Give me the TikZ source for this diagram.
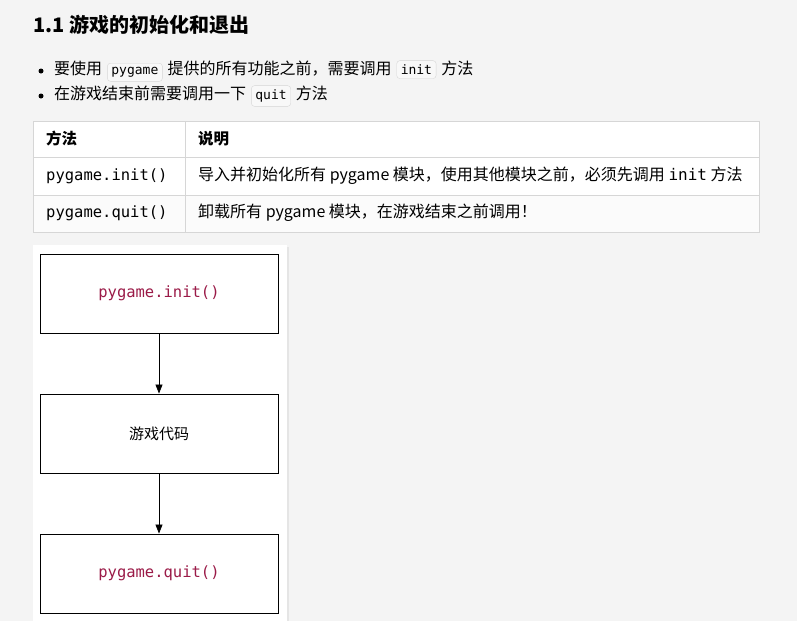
\documentclass[tikz,border=0pt]{standalone}
\usepackage{fontspec}
\setmainfont{Noto Sans CJK SC}
\setmonofont{DejaVu Sans Mono}
\usetikzlibrary{arrows.meta}
\definecolor{bg}{HTML}{F4F4F4}
\definecolor{codec}{HTML}{9B1B48}
\definecolor{grid}{HTML}{D6D6D6}
\begin{document}
\begin{tikzpicture}[x=1pt,y=-1pt,
  txt/.style={anchor=west,inner sep=0pt,font=\fontsize{16}{18}\selectfont},
  chip/.style={draw=grid,fill=bg!60!white,rounded corners=3pt,inner xsep=4pt,inner ysep=4pt,font=\fontsize{13}{15}\ttfamily},
  fbox/.style={draw,line width=0.9pt,minimum width=238pt,minimum height=79pt,font=\fontsize{15}{17}\selectfont},
  arr/.style={-{Triangle[length=9pt,width=7pt]},line width=0.8pt}]
\fill[bg] (0,0) rectangle (797,621);
\node[anchor=west,inner sep=0pt,font=\fontsize{20}{22}\selectfont\bfseries] (h) at (33,25) {1.1 游戏的初始化和退出};
\fill (41,71) circle (2.5); \fill (41,96) circle (2.5);
\node[txt] (b1) at (54,71) {要使用\hspace{5pt}\tikz[baseline=(c.base)]\node[chip](c){pygame};\hspace{5pt}提供的所有功能之前，需要调用\hspace{5pt}\tikz[baseline=(c.base)]\node[chip](c){init};\hspace{5pt}方法};
\node[txt] (b2) at (54,96) {在游戏结束前需要调用一下\hspace{5pt}\tikz[baseline=(c.base)]\node[chip](c){quit};\hspace{5pt}方法};
% table
\fill[white] (33,121) rectangle (759,195);
\fill[white!60!bg] (33,195) rectangle (759,232);
\draw[grid] (33,121) rectangle (759,232);
\draw[grid] (33,157) -- (759,157) (33,195) -- (759,195) (185,121) -- (185,232);
\node[txt,font=\fontsize{15.5}{17}\selectfont\bfseries] (t1) at (46,139) {方法};
\node[txt,font=\fontsize{15.5}{17}\selectfont\bfseries] (t2) at (198,139) {说明};
\node[txt,font=\fontsize{15.5}{17}\ttfamily] (t3) at (46,176) {pygame.init()};
\node[txt] (t4) at (198,176) {导入并初始化所有 pygame 模块，使用其他模块之前，必须先调用 {\ttfamily init} 方法};
\node[txt,font=\fontsize{15.5}{17}\ttfamily] (t5) at (46,213) {pygame.quit()};
\node[txt] (t6) at (198,213) {卸载所有 pygame 模块，在游戏结束之前调用！};
% card
\fill[black!10] (34,247) rectangle (289,621);
\fill[white] (33,245) rectangle (287,621);
\node[fbox,font=\fontsize{15.5}{17}\ttfamily,text=codec] (n1) at (159,293.5) {pygame.init()};
\node[fbox] (n2) at (159,433.5) {游戏代码};
\node[fbox,font=\fontsize{15.5}{17}\ttfamily,text=codec] (n3) at (159,573.5) {pygame.quit()};
\draw[arr] (n1) -- (n2);
\draw[arr] (n2) -- (n3);
\end{tikzpicture}
\end{document}
